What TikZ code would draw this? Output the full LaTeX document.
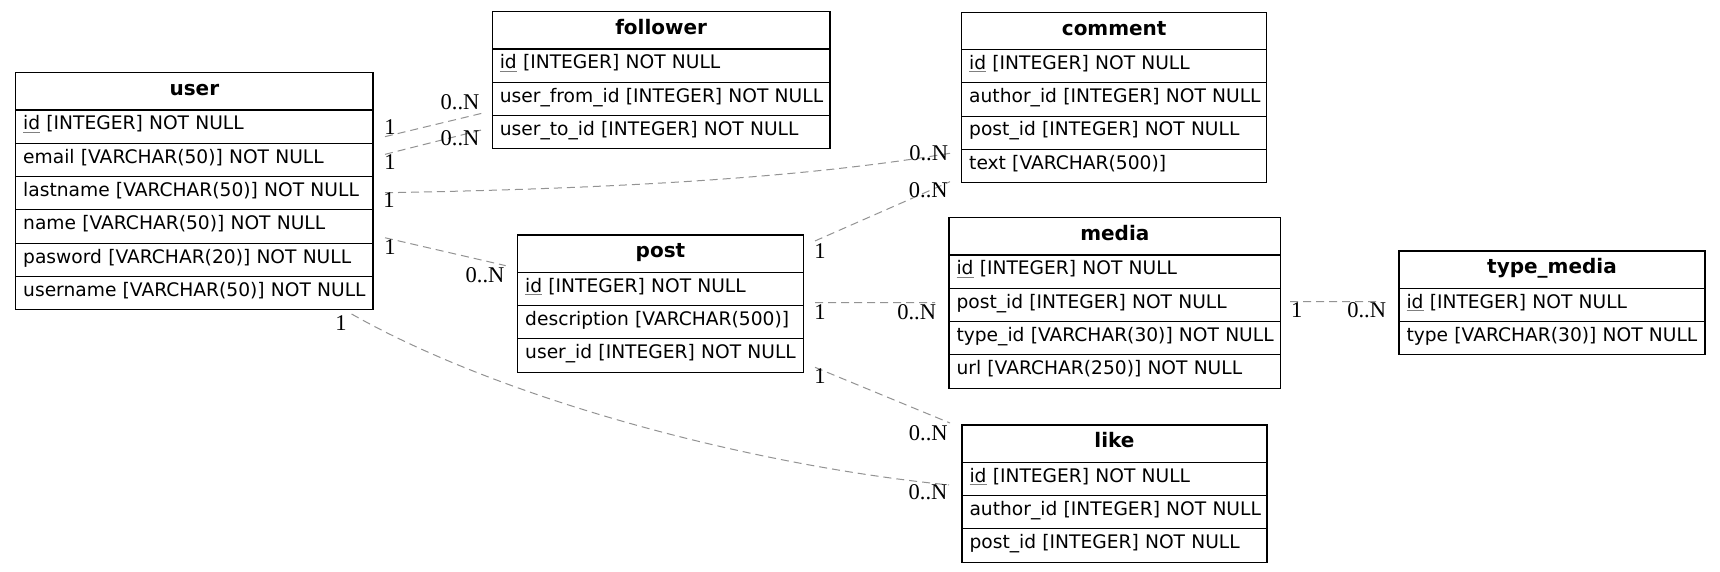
\documentclass[tikz,border=0pt]{standalone}
\usepackage{fontspec}
\setmainfont{DejaVu Sans}
\newfontfamily\lblfont{Liberation Serif}
\newcommand\pk{\setbox0\hbox{id}\rlap{\textcolor{gray}{\rule[-3pt]{\wd0}{1pt}}}id}
\tikzset{
 tbl/.style={draw=black, line width=1.15pt, inner sep=0pt, outer sep=0pt, anchor=north west, fill=white},
 hdr/.style={tbl, minimum height=37.3pt, font=\fontsize{20}{24}\selectfont\bfseries, text height=14.4pt, text depth=6.1pt, align=center},
 fld/.style={tbl, minimum height=33.3pt, font=\fontsize{18.66}{22}\selectfont, text height=13.6pt, text depth=7.3pt, inner xsep=7.5pt, align=left},
 rel/.style={draw=gray!85, line width=1pt, dash pattern=on 8pt off 5pt},
 card/.style={font=\lblfont\fontsize{22.5}{26}\selectfont, inner sep=0pt}
}
\begin{document}
\begin{tikzpicture}[x=1pt,y=-1pt]
\fill[white] (0,0) rectangle (1720,572);
\useasboundingbox (0,0) rectangle (1720,572);

% user
\node[hdr, minimum width=357.3pt] (user) at (15.7,72.7) {user};
\node[fld, text width=342.3pt] (user-id) at (user.south west) {\mbox{\pk{} [INTEGER] NOT NULL}};
\node[fld, text width=342.3pt] (user-email) at (user-id.south west) {\mbox{email [VARCHAR(50)] NOT NULL}};
\node[fld, text width=342.3pt] (user-last) at (user-email.south west) {\mbox{lastname [VARCHAR(50)] NOT NULL}};
\node[fld, text width=342.3pt] (user-name) at (user-last.south west) {\mbox{name [VARCHAR(50)] NOT NULL}};
\node[fld, text width=342.3pt] (user-pw) at (user-name.south west) {\mbox{pasword [VARCHAR(20)] NOT NULL}};
\node[fld, text width=342.3pt] (user-un) at (user-pw.south west) {\mbox{username [VARCHAR(50)] NOT NULL}};

% follower
\node[hdr, minimum width=337.7pt] (fol) at (492.3,11.7) {follower};
\node[fld, text width=322.7pt] (fol-id) at (fol.south west) {\mbox{\pk{} [INTEGER] NOT NULL}};
\node[fld, text width=322.7pt] (fol-from) at (fol-id.south west) {\mbox{user\_from\_id [INTEGER] NOT NULL}};
\node[fld, text width=322.7pt] (fol-to) at (fol-from.south west) {\mbox{user\_to\_id [INTEGER] NOT NULL}};

% comment
\node[hdr, minimum width=305pt] (com) at (961.7,12.3) {comment};
\node[fld, text width=290pt] (com-id) at (com.south west) {\mbox{\pk{} [INTEGER] NOT NULL}};
\node[fld, text width=290pt] (com-auth) at (com-id.south west) {\mbox{author\_id [INTEGER] NOT NULL}};
\node[fld, text width=290pt] (com-post) at (com-auth.south west) {\mbox{post\_id [INTEGER] NOT NULL}};
\node[fld, text width=290pt] (com-text) at (com-post.south west) {\mbox{text [VARCHAR(500)]}};

% post
\node[hdr, minimum width=285.6pt] (post) at (517.7,235) {post};
\node[fld, text width=270.6pt] (post-id) at (post.south west) {\mbox{\pk{} [INTEGER] NOT NULL}};
\node[fld, text width=270.6pt] (post-desc) at (post-id.south west) {\mbox{description [VARCHAR(500)]}};
\node[fld, text width=270.6pt] (post-uid) at (post-desc.south west) {\mbox{user\_id [INTEGER] NOT NULL}};

% media
\node[hdr, minimum width=331.7pt] (med) at (949,217.7) {media};
\node[fld, text width=316.7pt] (med-id) at (med.south west) {\mbox{\pk{} [INTEGER] NOT NULL}};
\node[fld, text width=316.7pt] (med-post) at (med-id.south west) {\mbox{post\_id [INTEGER] NOT NULL}};
\node[fld, text width=316.7pt] (med-type) at (med-post.south west) {\mbox{type\_id [VARCHAR(30)] NOT NULL}};
\node[fld, text width=316.7pt] (med-url) at (med-type.south west) {\mbox{url [VARCHAR(250)] NOT NULL}};

% type_media
\node[hdr, minimum width=306pt] (tm) at (1399,251) {type\_media};
\node[fld, text width=291pt] (tm-id) at (tm.south west) {\mbox{\pk{} [INTEGER] NOT NULL}};
\node[fld, text width=291pt] (tm-type) at (tm-id.south west) {\mbox{type [VARCHAR(30)] NOT NULL}};

% like
\node[hdr, minimum width=305pt] (like) at (962,425) {like};
\node[fld, text width=290pt] (like-id) at (like.south west) {\mbox{\pk{} [INTEGER] NOT NULL}};
\node[fld, text width=290pt] (like-auth) at (like-id.south west) {\mbox{author\_id [INTEGER] NOT NULL}};
\node[fld, text width=290pt] (like-post) at (like-auth.south west) {\mbox{post\_id [INTEGER] NOT NULL}};

% relations
\draw[rel] ([shift={(12,10)}]user-id.east) -- ([shift={(-10.6,14.4)}]fol-from.west);
\draw[rel] ([shift={(12,-5.6)}]user-email.east) -- ([shift={(-10.6,-2.3)}]fol-to.west);
\draw[rel] ([shift={(12,-0.5)}]user-last.east) .. controls +(265,-4.7) and +(-130,21.7) .. ([shift={(-11.7,-12.9)}]com-text.west);
\draw[rel] ([shift={(12,11.2)}]user-name.east) -- ([shift={(-12,12)}]post.west);
\draw[rel] ([shift={(11.7,-12.7)}]post.east) -- ([shift={(-11.7,15.5)}]com-text.west);
\draw[rel] ([shift={(11.7,13.75)}]post-id.east) -- ([shift={(-14,-2.25)}]med-post.west);
\draw[rel] ([shift={(11.7,11.75)}]post-uid.east) -- ([shift={(-12,-2)}]like.north west);
\draw[rel] ([shift={(-21.4,4.2)}]user-un.south east) .. controls +(150,85) and +(-200,-20) .. ([shift={(-13,6)}]like-id.west);
\draw[rel] ([shift={(9.3,-3.25)}]med-post.east) -- ([shift={(-19,-3.25)}]tm-id.west);

% cardinalities
\node[card] (k1a) at (390,126.7) {1};
\node[card] (k1b) at (460,102.3) {0..N};
\node[card] (k2a) at (390,162) {1};
\node[card] (k2b) at (460,138.3) {0..N};
\node[card] (k3a) at (389,200) {1};
\node[card] (k3b) at (928.7,153.3) {0..N};
\node[card] (k4a) at (390,246.7) {1};
\node[card] (k4b) at (485,275) {0..N};
\node[card] (k5a) at (820,251) {1};
\node[card] (k5b) at (928.3,190) {0..N};
\node[card] (k6a) at (820,311.7) {1};
\node[card] (k6b) at (916.7,311.7) {0..N};
\node[card] (k7a) at (820,376) {1};
\node[card] (k7b) at (928.3,433) {0..N};
\node[card] (k8a) at (341,323.3) {1};
\node[card] (k8b) at (928,492.5) {0..N};
\node[card] (k9a) at (1296.7,310) {1};
\node[card] (k9b) at (1366.7,310) {0..N};
\end{tikzpicture}
\end{document}
